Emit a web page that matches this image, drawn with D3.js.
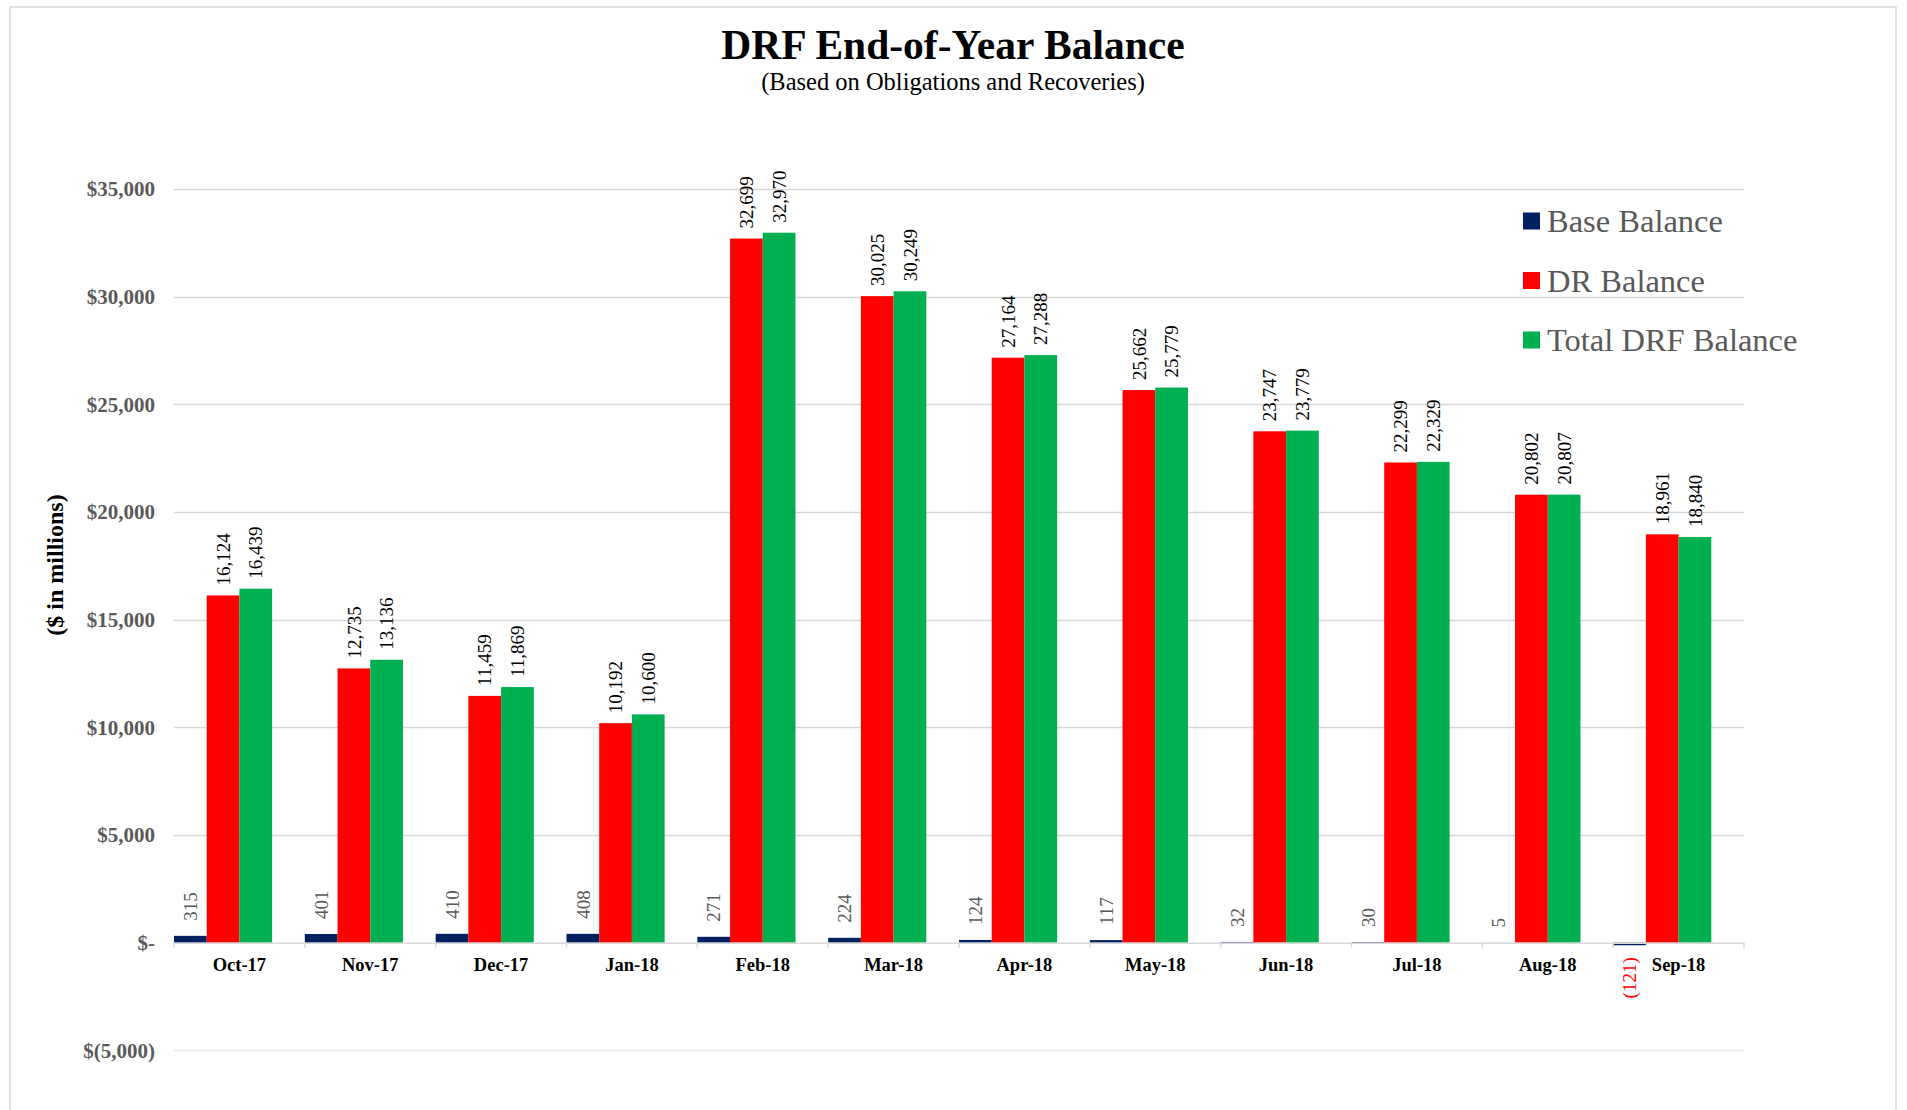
<!DOCTYPE html>
<html>
<head>
<meta charset="utf-8">
<script src="https://cdn.jsdelivr.net/npm/d3@7"></script>
<style>
  html, body { margin: 0; padding: 0; background: #fff; }
  svg { display: block; }
  text { font-family: "Times New Roman", "Liberation Serif", serif; }
</style>
</head>
<body>
<svg id="chart" width="1907" height="1110"></svg>
<script>
// chart values
var months = ['Oct-17', 'Nov-17', 'Dec-17', 'Jan-18', 'Feb-18', 'Mar-18',
              'Apr-18', 'May-18', 'Jun-18', 'Jul-18', 'Aug-18', 'Sep-18'];
var seriesNames = ['Base Balance', 'DR Balance', 'Total DRF Balance'];
var baseBalance = [315, 401, 410, 408, 271, 224, 124, 117, 32, 30, 5, -121];
var drBalance = [16124, 12735, 11459, 10192, 32699, 30025, 27164, 25662, 23747, 22299, 20802, 18961];
var totalBalance = [16439, 13136, 11869, 10600, 32970, 30249, 27288, 25779, 23779, 22329, 20807, 18840];
var yTicks = [-5000, 0, 5000, 10000, 15000, 20000, 25000, 30000, 35000];

(function() {
  var svg, x0, x1, y, colors, labelColors, series, fmtNum, fmtMoney, g, legend;

  svg = d3.select('#chart');

  colors = ['#002060', '#ff0000', '#00b050'];
  labelColors = ['#595959', '#000000', '#000000'];
  series = [baseBalance, drBalance, totalBalance];

  fmtNum = d3.format(',');
  fmtMoney = function(v) {
    if (v === 0) return '$-';
    if (v < 0) return '$(' + fmtNum(-v) + ')';
    return '$' + fmtNum(v);
  };

  // outer frame
  svg.append('rect')
    .attr('x', 10).attr('y', 7)
    .attr('width', 1886).attr('height', 1130)
    .attr('fill', 'none')
    .attr('stroke', '#d9d9d9')
    .attr('stroke-width', 1.5);

  // title
  svg.append('text')
    .attr('x', 953).attr('y', 59)
    .attr('text-anchor', 'middle')
    .attr('font-size', 41.5).attr('font-weight', 'bold')
    .attr('fill', '#000')
    .text('DRF End-of-Year Balance');

  svg.append('text')
    .attr('x', 953).attr('y', 90)
    .attr('text-anchor', 'middle')
    .attr('font-size', 24.5)
    .attr('fill', '#000')
    .text('(Based on Obligations and Recoveries)');

  x0 = d3.scaleBand().domain(months).range([174, 1744]).padding(0);
  // four slots per month, the fourth one stays empty like the original
  x1 = d3.scaleBand().domain([0, 1, 2, 3]).range([0, x0.bandwidth()]);
  y = d3.scaleLinear().domain([-5000, 35000]).range([1050.3, 189]);

  // gridlines
  svg.append('g').selectAll('line')
    .data(yTicks.filter(function(d) { return d !== 0; }))
    .enter().append('line')
    .attr('x1', 174).attr('x2', 1744)
    .attr('y1', function(d) { return Math.round(y(d)) + 0.5; })
    .attr('y2', function(d) { return Math.round(y(d)) + 0.5; })
    .attr('stroke', function(d) { return d < 0 ? '#ececec' : '#d9d9d9'; })
    .attr('stroke-width', 1.5);

  // y tick labels
  svg.append('g').selectAll('text')
    .data(yTicks)
    .enter().append('text')
    .attr('x', 155)
    .attr('y', function(d) { return y(d); })
    .attr('dy', '0.35em')
    .attr('text-anchor', 'end')
    .attr('font-size', 21).attr('font-weight', 'bold')
    .attr('fill', '#595959')
    .text(fmtMoney);

  // y axis title
  svg.append('text')
    .attr('transform', 'translate(55,' + 565 + ') rotate(-90)')
    .attr('dy', '0.35em')
    .attr('text-anchor', 'middle')
    .attr('font-size', 24).attr('font-weight', 'bold')
    .attr('fill', '#000')
    .text('($ in millions)');

  // bars
  series.forEach(function(vals, si) {
    g = svg.append('g').attr('class', 'series_' + si);
    g.selectAll('rect')
      .data(vals)
      .enter().append('rect')
      .attr('x', function(d, i) { return x0(months[i]) + x1(si); })
      .attr('width', x1.bandwidth())
      .attr('y', function(d) { return y(Math.max(0, d)); })
      .attr('height', function(d) { return Math.abs(y(d) - y(0)); })
      .attr('fill', colors[si]);

    // value labels, rotated
    g.selectAll('text')
      .data(vals)
      .enter().append('text')
      .attr('transform', function(d, i) {
        var cx = x0(months[i]) + x1(si) + x1.bandwidth() / 2;
        var off = si === 0 ? 15 : 10;
        var yy = d < 0 ? y(d) + 12 : y(d) - off;
        return 'translate(' + cx + ',' + yy + ') rotate(-90)';
      })
      .attr('dy', '0.35em')
      .attr('text-anchor', function(d) { return d < 0 ? 'end' : 'start'; })
      .attr('font-size', 19)
      .attr('fill', function(d) { return d < 0 ? '#ff0000' : labelColors[si]; })
      .text(function(d) { return d < 0 ? '(' + fmtNum(-d) + ')' : fmtNum(d); });
  });

  // x axis line and ticks
  svg.append('line')
    .attr('x1', 174).attr('x2', 1744)
    .attr('y1', y(0) + 0.5).attr('y2', y(0) + 0.5)
    .attr('stroke', '#d9d9d9').attr('stroke-width', 1.5);

  svg.append('g').selectAll('line')
    .data(months.concat(['end']))
    .enter().append('line')
    .attr('x1', function(d, i) { return 174 + i * x0.bandwidth(); })
    .attr('x2', function(d, i) { return 174 + i * x0.bandwidth(); })
    .attr('y1', y(0)).attr('y2', y(0) + 5)
    .attr('stroke', '#d9d9d9').attr('stroke-width', 1.5);

  svg.append('g').selectAll('text')
    .data(months)
    .enter().append('text')
    .attr('x', function(d) { return x0(d) + x0.bandwidth() / 2; })
    .attr('y', 971)
    .attr('text-anchor', 'middle')
    .attr('font-size', 18.5).attr('font-weight', 'bold')
    .attr('fill', '#000')
    .text(function(d) { return d; });

  // legend
  legend = svg.append('g').selectAll('g')
    .data(seriesNames)
    .enter().append('g')
    .attr('transform', function(d, i) { return 'translate(1523,' + (221 + i * 59.5) + ')'; });

  legend.append('rect')
    .attr('x', 0).attr('y', -8.5)
    .attr('width', 17).attr('height', 17)
    .attr('fill', function(d, i) { return colors[i]; });

  legend.append('text')
    .attr('x', 24).attr('y', 0)
    .attr('dy', '0.35em')
    .attr('font-size', 32.5)
    .attr('fill', '#595959')
    .text(function(d) { return d; });
})();
</script>
</body>
</html>
